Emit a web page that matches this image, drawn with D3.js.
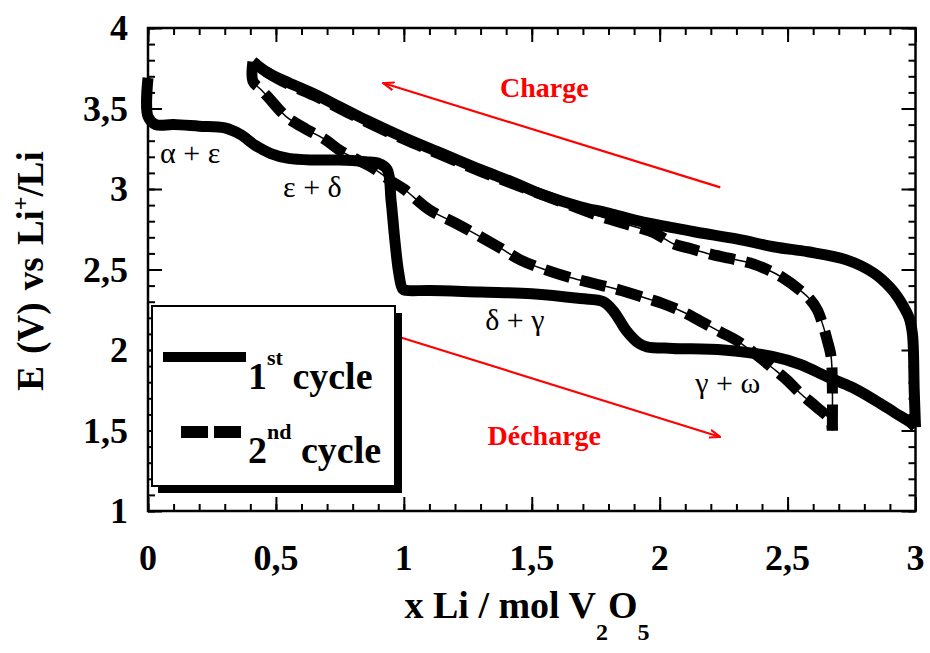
<!DOCTYPE html>
<html>
<head>
<meta charset="utf-8">
<script src="https://cdn.jsdelivr.net/npm/d3@7"></script>
<style>
    body { margin: 0; background: #fff; }
    svg text { font-family: "Liberation Serif", "Times New Roman", serif; }
</style>
</head>
<body>
<svg id="chart" width="930" height="653"></svg>
<script>
// 1st cycle, discharge then charge (x Li, E in V)
const cycle1DischargeX = [0, 0, 0.03, 0.1, 0.2, 0.3, 0.36, 0.42, 0.48, 0.55, 0.65, 0.75, 0.85, 0.9, 0.935, 0.95, 0.965, 0.98, 0.995, 1.01, 1.1, 1.3, 1.5, 1.69, 1.78, 1.82, 1.87, 1.92, 1.95, 2.05, 2.25, 2.44, 2.55, 2.66, 2.75, 2.84, 2.92, 2.98, 3.0];
const cycle1DischargeY = [3.69, 3.45, 3.40, 3.40, 3.39, 3.38, 3.34, 3.27, 3.22, 3.19, 3.18, 3.18, 3.17, 3.16, 3.12, 2.93, 2.68, 2.48, 2.38, 2.37, 2.37, 2.36, 2.35, 2.32, 2.30, 2.24, 2.12, 2.04, 2.02, 2.01, 2.0, 1.96, 1.91, 1.83, 1.77, 1.69, 1.61, 1.55, 1.52];
const cycle1ChargeX = [3.0, 2.995, 2.988, 2.975, 2.953, 2.93, 2.9, 2.835, 2.73, 2.58, 2.45, 2.3, 2.15, 2.05, 1.92, 1.8, 1.69, 1.55, 1.43, 1.3, 1.15, 1.0, 0.85, 0.75, 0.65, 0.55, 0.47, 0.41];
const cycle1ChargeY = [1.52, 1.75, 2.1, 2.2, 2.27, 2.33, 2.39, 2.48, 2.56, 2.61, 2.64, 2.69, 2.73, 2.76, 2.80, 2.85, 2.89, 2.96, 3.04, 3.12, 3.22, 3.32, 3.43, 3.51, 3.59, 3.66, 3.72, 3.79];

// 2nd cycle
const cycle2DischargeX = [0.41, 0.41, 0.44, 0.47, 0.54, 0.62, 0.69, 0.75, 0.82, 0.88, 0.95, 1.0, 1.1, 1.2, 1.37, 1.455, 1.55, 1.65, 1.75, 1.85, 1.95, 2.01, 2.1, 2.17, 2.24, 2.3, 2.37, 2.44, 2.5, 2.55, 2.61, 2.667, 2.675];
const cycle2DischargeY = [3.79, 3.67, 3.62, 3.57, 3.45, 3.37, 3.31, 3.24, 3.18, 3.13, 3.05, 3.0, 2.87, 2.79, 2.64, 2.56, 2.50, 2.45, 2.41, 2.37, 2.32, 2.29, 2.23, 2.17, 2.11, 2.06, 1.98, 1.89, 1.81, 1.73, 1.65, 1.565, 1.50];
const cycle2ChargeX = [2.675, 2.675, 2.67, 2.655, 2.635, 2.616, 2.585, 2.55, 2.48, 2.42, 2.354, 2.27, 2.186, 2.12, 2.053, 1.975, 1.85, 1.75, 1.6, 1.43, 1.3, 1.15, 1.0, 0.85, 0.75, 0.65, 0.55, 0.47, 0.41];
const cycle2ChargeY = [1.50, 1.77, 1.96, 2.06, 2.17, 2.25, 2.32, 2.37, 2.45, 2.50, 2.54, 2.57, 2.60, 2.63, 2.66, 2.73, 2.79, 2.84, 2.93, 3.03, 3.11, 3.21, 3.31, 3.42, 3.50, 3.58, 3.65, 3.72, 3.79];

// axes
const xMajorTicks = [0, 0.5, 1, 1.5, 2, 2.5, 3];
const yMajorTicks = [1, 1.5, 2, 2.5, 3, 3.5, 4];
const xMinorTicks = d3.range(0, 31).map(i => i / 10);
const yMinorTicks = d3.range(10, 41).map(i => i / 10);

// phase labels and arrows (data units)
const phaseLabels = ["α + ε", "ε + δ", "δ + γ", "γ + ω"];
const phaseX = [0.047, 0.528, 1.318, 2.139];
const phaseY = [3.161, 2.95, 2.124, 1.733];
const arrowNames = ["Charge", "Décharge"];
const arrowFrom = [[2.237, 3.01], [0.919, 2.112]];
const arrowTo = [[0.919, 3.658], [2.237, 1.46]];
const arrowLabelPos = [[1.549, 3.571], [1.549, 1.41]];

const svg = d3.select("#chart");

const x = d3.scaleLinear().domain([0, 3]).range([148, 915.5]);
const y = d3.scaleLinear().domain([1, 4]).range([511, 28]);

const line = d3.line()
    .x(d => x(d[0]))
    .y(d => y(d[1]))
    .curve(d3.curveCatmullRom.alpha(0.5));

const zip = (a, b) => a.map((v, i) => [v, b[i]]);

// 1st cycle: thick solid
const plot = svg.append("g");
[zip(cycle1DischargeX, cycle1DischargeY), zip(cycle1ChargeX, cycle1ChargeY)].forEach(pts => {
    plot.append("path")
        .attr("d", line(pts))
        .attr("fill", "none")
        .attr("stroke", "#000")
        .attr("stroke-width", 11)
        .attr("stroke-linejoin", "round");
});

// 2nd cycle: thin line with thick dashes on top
[zip(cycle2DischargeX, cycle2DischargeY), zip(cycle2ChargeX, cycle2ChargeY)].forEach(pts => {
    plot.append("path")
        .attr("d", line(pts))
        .attr("fill", "none")
        .attr("stroke", "#000")
        .attr("stroke-width", 1.5);
    plot.append("path")
        .attr("d", line(pts))
        .attr("fill", "none")
        .attr("stroke", "#000")
        .attr("stroke-width", 11)
        .attr("stroke-dasharray", "26,11");
});

// ticks (all pointing inward)
function tickAxis(axis, scale, values, size, transform) {
    const g = svg.append("g")
        .attr("transform", transform)
        .call(axis(scale).tickValues(values).tickSize(size).tickFormat(""));
    g.select(".domain").remove();
    g.selectAll(".tick line").attr("stroke", "#000").attr("stroke-width", 2);
    return g;
}
tickAxis(d3.axisBottom, x, xMinorTicks, -7, `translate(0,${y(1)})`);
tickAxis(d3.axisBottom, x, xMajorTicks, -14, `translate(0,${y(1)})`);
tickAxis(d3.axisTop, x, xMinorTicks, -7, `translate(0,${y(4)})`);
tickAxis(d3.axisTop, x, xMajorTicks, -14, `translate(0,${y(4)})`);
tickAxis(d3.axisLeft, y, yMinorTicks, -7, `translate(${x(0)},0)`);
tickAxis(d3.axisLeft, y, yMajorTicks, -14, `translate(${x(0)},0)`);
tickAxis(d3.axisRight, y, yMinorTicks, -7, `translate(${x(3)},0)`);
tickAxis(d3.axisRight, y, yMajorTicks, -14, `translate(${x(3)},0)`);

// frame
svg.append("rect")
    .attr("x", x(0)).attr("y", y(4))
    .attr("width", x(3) - x(0)).attr("height", y(1) - y(4))
    .attr("fill", "none").attr("stroke", "#000").attr("stroke-width", 2.5);

// tick labels
const fmt = d => d3.format("~g")(d).replace(".", ",");
svg.append("g").selectAll("text")
    .data(xMajorTicks)
    .join("text")
    .attr("x", d => x(d))
    .attr("y", 570)
    .attr("text-anchor", "middle")
    .attr("font-size", 36)
    .attr("font-weight", "bold")
    .text(fmt);
svg.append("g").selectAll("text")
    .data(yMajorTicks)
    .join("text")
    .attr("x", 128)
    .attr("y", d => y(d))
    .attr("dy", "0.34em")
    .attr("text-anchor", "end")
    .attr("font-size", 36)
    .attr("font-weight", "bold")
    .text(fmt);

// axis titles
const xTitle = svg.append("text")
    .attr("x", 527).attr("y", 618)
    .attr("text-anchor", "middle")
    .attr("font-size", 38)
    .attr("font-weight", "bold");
xTitle.append("tspan").text("x Li / mol V");
xTitle.append("tspan").attr("font-size", 24).attr("dy", 22).text("2");
xTitle.append("tspan").attr("dy", -22).text("O");
xTitle.append("tspan").attr("font-size", 24).attr("dy", 22).text("5");

const yTitle = svg.append("text")
    .attr("transform", "translate(43,271) rotate(-90)")
    .attr("text-anchor", "middle")
    .attr("font-size", 37)
    .attr("font-weight", "bold")
    .attr("word-spacing", 3);
yTitle.append("tspan").text("E (V) vs Li");
yTitle.append("tspan").attr("font-size", 24).attr("dy", -15).text("+");
yTitle.append("tspan").attr("dy", 15).text("/Li");

// phase labels
svg.append("g").selectAll("text")
    .data(phaseLabels)
    .join("text")
    .attr("x", (d, i) => x(phaseX[i]))
    .attr("y", (d, i) => y(phaseY[i]))
    .attr("font-size", 30)
    .text(d => d);

// red arrows
svg.append("defs").append("marker")
    .attr("id", "head")
    .attr("viewBox", "0 -5 12 10")
    .attr("refX", 11)
    .attr("refY", 0)
    .attr("markerWidth", 12)
    .attr("markerHeight", 10)
    .attr("markerUnits", "userSpaceOnUse")
    .attr("orient", "auto")
    .append("path")
    .attr("d", "M0,-4L11,0L0,4")
    .attr("fill", "none")
    .attr("stroke", "red")
    .attr("stroke-width", 2);

arrowNames.forEach((name, i) => {
    svg.append("line")
        .attr("x1", x(arrowFrom[i][0])).attr("y1", y(arrowFrom[i][1]))
        .attr("x2", x(arrowTo[i][0])).attr("y2", y(arrowTo[i][1]))
        .attr("stroke", "red")
        .attr("stroke-width", 2.2)
        .attr("marker-end", "url(#head)");
    svg.append("text")
        .attr("x", x(arrowLabelPos[i][0]))
        .attr("y", y(arrowLabelPos[i][1]))
        .attr("text-anchor", "middle")
        .attr("font-size", 28)
        .attr("font-weight", "bold")
        .attr("fill", "red")
        .text(name);
});

// legend box with drop shadow
const legend = svg.append("g");
legend.append("rect")
    .attr("x", 158).attr("y", 313).attr("width", 244).attr("height", 180)
    .attr("fill", "#000");
legend.append("rect")
    .attr("x", 152).attr("y", 306).attr("width", 243).attr("height", 180)
    .attr("fill", "#fff").attr("stroke", "#000").attr("stroke-width", 2);

legend.append("line")
    .attr("x1", 163).attr("x2", 246).attr("y1", 357).attr("y2", 357)
    .attr("stroke", "#000").attr("stroke-width", 10);
legend.append("line")
    .attr("x1", 181).attr("x2", 241).attr("y1", 432).attr("y2", 432)
    .attr("stroke", "#000").attr("stroke-width", 12)
    .attr("stroke-dasharray", "27,6");

const legendItems = [["1", "st", 389], ["2", "nd", 463]];
legendItems.forEach(([num, sup, base]) => {
    const t = legend.append("text")
        .attr("x", 248).attr("y", base)
        .attr("font-size", 38)
        .attr("font-weight", "bold");
    t.append("tspan").text(num);
    t.append("tspan").attr("font-size", 22).attr("dy", -24).text(sup);
    t.append("tspan").attr("dy", 24).text(" cycle");
});
</script>
</body>
</html>
